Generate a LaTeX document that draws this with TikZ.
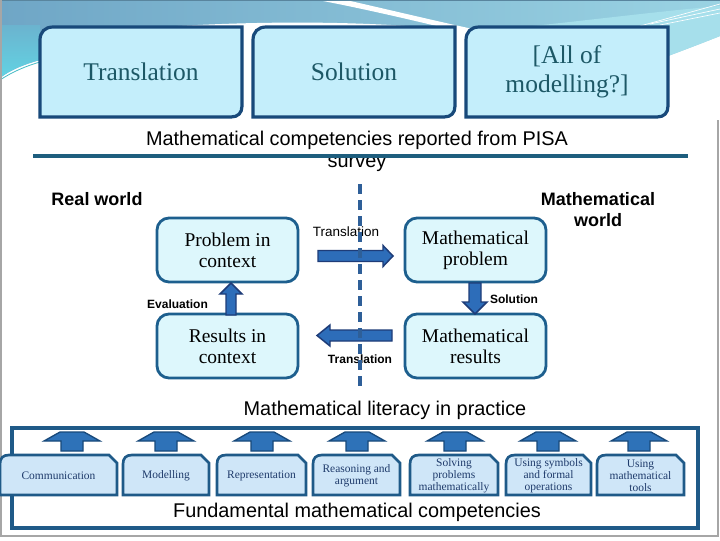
\documentclass[tikz,border=0pt]{standalone}
\usepackage{fontspec}
\setmainfont{Liberation Serif}
\newfontfamily\arialf{Liberation Sans}
\usetikzlibrary{calc}
\definecolor{bandA}{HTML}{6FA6C6}
\definecolor{bandB}{HTML}{9AD3E3}
\definecolor{bandC}{HTML}{62D3E3}
\definecolor{bandD}{HTML}{A6DFEB}
\definecolor{topfill}{HTML}{C4EEFB}
\definecolor{topdraw}{HTML}{18497A}
\definecolor{toptext}{HTML}{1D5866}
\definecolor{midfill}{HTML}{DDF7FC}
\definecolor{middraw}{HTML}{1D5F8E}
\definecolor{arrfill}{HTML}{2D6DB9}
\definecolor{arrdraw}{HTML}{1E3C78}
\definecolor{dashc}{HTML}{2E5F98}
\definecolor{rulec}{HTML}{1E5E7E}
\definecolor{framec}{HTML}{1F5A88}
\definecolor{compfill}{HTML}{CFE6F8}
\definecolor{comptext}{HTML}{1F3B6B}
\definecolor{uparr}{HTML}{2E72B8}
\newcommand\fsz[2]{\fontsize{#1}{#2}\selectfont}
\newcommand\topbox[6]{%
  \path[topshape] ({#2},{#5}) -- ({#2},{#3+13}) .. controls ({#2},{#3+5}) and ({#2+5},{#3}) .. ({#2+13},{#3}) -- ({#4},{#3}) -- ({#4},{#5-11}) .. controls ({#4},{#5-4}) and ({#4-4},{#5}) .. ({#4-11},{#5}) -- cycle;
  \node[toptext] (#1) at ({(#2+#4)/2},{(#3+#5)/2}) {#6};}
\newcommand\compbox[4]{%
  \path[compshape] ({#2},495) -- ({#2},464) .. controls ({#2},458) and ({#2+3},455) .. ({#2+9},455) -- ({#3-8},455) -- ({#3},463) -- ({#3},495) -- cycle;
  \node[comptxt] (#1) at ({(#2+#3)/2},476) {#4};}
\newcommand\myuparr[2]{%
  \path[uparrstyle] ({#2-11},451) -- ({#2-11},441) -- ({#2-28},441) -- ({#2-12},432) -- ({#2+12},432) -- ({#2+28},441) -- ({#2+11},441) -- ({#2+11},451) -- cycle;
  \coordinate (#1) at ({#2},432);}
\begin{document}
\begin{tikzpicture}[x=0.75pt,y=-0.75pt,
  topshape/.style={draw=topdraw,fill=topfill,line width=2.4pt},
  toptext/.style={text=toptext,font=\fsz{19.1}{21.75},align=center,inner sep=0pt},
  midbox/.style={draw=middraw,fill=midfill,line width=2.1pt,rounded corners=9pt,
     minimum width=105.75pt,minimum height=48pt,inner sep=0pt,align=center,font=\fsz{14.6}{15.75}},
  blockarr/.style={draw=arrdraw,fill=arrfill,line width=1.1pt,line join=miter},
  lab/.style={font=\arialf\bfseries\fsz{9}{10},inner sep=0pt},
  labn/.style={font=\arialf\fsz{10.1}{11},inner sep=0pt},
  heading/.style={font=\arialf\fsz{14.9}{16.5},align=center,inner sep=0pt},
  world/.style={font=\arialf\bfseries\fsz{13.5}{15.75},align=center,inner sep=0pt},
  compshape/.style={draw=framec,fill=compfill,line width=2pt},
  comptxt/.style={text=comptext,font=\fsz{8.6}{9},align=center,inner sep=0pt},
  uparrstyle/.style={draw=topdraw,fill=uparr,line width=1pt,line join=miter}]
\useasboundingbox (0,0) rectangle (720,540);
\fill[white] (0,0) rectangle (720,540);
% ---- top decoration
\shade[left color=bandA,right color=bandB] (0,0) -- (720,0) -- (720,36) .. controls (700,44) and (684,50) .. (668,56) -- (40,60) .. controls (25,64) and (10,70) .. (0,78) -- cycle;
\shade[top color=bandA!70!bandC,bottom color=bandC] (0,25) -- (40,25) -- (40,60) .. controls (25,64) and (10,70) .. (0,78) -- cycle;
\draw[bandC!70!teal,line width=0.6pt] (0,80) .. controls (12,72) and (26,66) .. (40,62);
\fill[white] (160,27) .. controls (260,21) and (360,20) .. (470,31) -- (470,70) -- (160,70) -- cycle;
\fill[white] (318,0) -- (346,0) .. controls (390,10) and (440,22) .. (482,31) -- (466,33) .. controls (420,22) and (370,10) .. (318,0) -- cycle;
\fill[bandD] (482,31) .. controls (560,24) and (650,12) .. (720,6) -- (720,36) .. controls (700,44) and (684,50) .. (668,56) -- (470,60) -- cycle;
\draw[white,line width=0.5pt] (640,26) -- (720,4);
\draw[white,line width=0.5pt] (650,24) -- (720,9);
\draw[white,line width=0.5pt] (660,25) -- (720,13);
\draw[bandA!80!black,line width=0.8pt] (0,0.5) -- (720,0.5);
% ---- outer frame
\draw[gray!70,line width=1pt] (1,0) -- (1,536) -- (718,536) -- (718,120);
% ---- top boxes
\topbox{tA}{40}{27}{242}{117}{Translation}
\topbox{tB}{253}{27}{455}{117}{Solution}
\topbox{tC}{466}{27}{668}{117}{[All of\\modelling?]}
% ---- heading
\node[heading] (head) at (357,151) {Mathematical competencies reported from PISA\\survey};
\draw[rulec,line width=2.3pt] (33,156) -- (688,156);
\node[world] (rw) at (97,199) {Real world};
\node[world] (mw) at (598,210) {Mathematical\\world};
% ---- middle boxes
\node[midbox] (pc) at (227.5,250) {Problem in\\context};
\node[midbox] (mp) at (475.5,250) {Mathematical\\problem};
\node[midbox] (rc) at (227.5,346) {Results in\\context};
\node[midbox] (mr) at (475.5,346) {Mathematical\\results};
% ---- block arrows
\path[blockarr] (318,250.5) -- (383,250.5) -- (383,245.5) -- (393,256) -- (383,266.5) -- (383,261.5) -- (318,261.5) -- cycle;
\path[blockarr] (392,330) -- (330,330) -- (330,325) -- (317,335.5) -- (330,346) -- (330,341) -- (392,341) -- cycle;
\path[blockarr] (469,283) -- (481,283) -- (481,302) -- (487,302) -- (475,314) -- (463,302) -- (469,302) -- cycle;
\path[blockarr] (226,315) -- (236,315) -- (236,294) -- (242,294) -- (231,283) -- (220,294) -- (226,294) -- cycle;
\node[labn] (l1) at (346,232) {Translation};
\node[lab] (l2) at (514,299) {Solution};
\node[lab] (l3) at (360,359) {Translation};
\node[lab] (l4) at (177.5,304) {Evaluation};
% ---- dashed divider
\draw[dashc,line width=2.3pt,dash pattern=on 7.5pt off 4.5pt] (360,184) -- (360,392);
% ---- bottom
\node[heading] (lit) at (385,410) {Mathematical literacy in practice};
\draw[framec,line width=2.3pt,fill=white] (12,428) rectangle (698,528);
\myuparr{a1}{72}
\myuparr{a2}{166}
\myuparr{a3}{262}
\myuparr{a4}{357}
\myuparr{a5}{455}
\myuparr{a6}{548}
\myuparr{a7}{639}
\compbox{c1}{0}{117}{Communication}
\compbox{c2}{123}{209}{Modelling}
\compbox{c3}{217}{306}{Representation}
\compbox{c4}{313}{400}{Reasoning and\\argument}
\compbox{c5}{410}{498}{Solving\\problems\\mathematically}
\compbox{c6}{506}{591}{Using symbols\\and formal\\operations}
\compbox{c7}{597}{684}{Using\\mathematical\\tools}
\node[heading] (fund) at (357,512) {Fundamental mathematical competencies};
\end{tikzpicture}
\end{document}
